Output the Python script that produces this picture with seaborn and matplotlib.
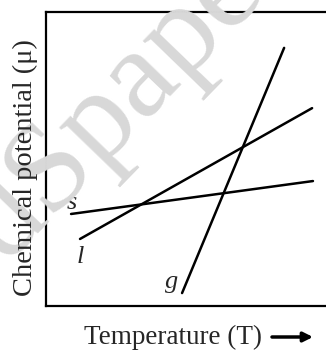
import pandas as pd
import matplotlib.pyplot as plt
import seaborn as sns

# two end points per phase line (T, mu), in arbitrary units
phases = ['s', 's', 'l', 'l', 'g', 'g']
temperature = [0.88, 9.27, 1.19, 9.24, 4.73, 8.27]
potential = [3.13, 4.25, 2.28, 6.73, 0.44, 8.78]

# phase labels placed at the lower-left end of each line
label_names = ['s', 'l', 'g']
label_T = [0.91, 1.19, 4.38]
label_mu = [3.50, 1.67, 0.82]

W, H = 326, 351

sns.set_style('white')
plt.rcParams['font.family'] = ['Liberation Serif', 'DejaVu Serif']

df = pd.DataFrame({'phase': phases, 'T': temperature, 'mu': potential})

fig = plt.figure(figsize=(W / 100, H / 100), dpi=100)

# faint watermark behind the chart
fig.text(136 / W, 1 - 128 / H, 'dSpape', rotation=46, fontsize=92,
         color='#d8d8d8', ha='center', va='baseline', rotation_mode='anchor',
         zorder=0)

ax = fig.add_axes([45.7 / W, 1 - 306 / H, (334 - 45.7) / W, (306 - 12) / H])
ax.patch.set_alpha(0)

sns.lineplot(data=df, x='T', y='mu', hue='phase', units='phase', estimator=None,
             palette={'s': 'black', 'l': 'black', 'g': 'black'},
             legend=False, lw=1.8, ax=ax)

for name, t, m in zip(label_names, label_T, label_mu):
    ax.text(t, m, name, fontsize=19, style='italic', ha='center', va='center')

ax.set_xlim(0, 10)
ax.set_ylim(0, 10)
ax.set_xticks([])
ax.set_yticks([])
ax.set_xlabel('')
ax.set_ylabel('')
for sp in ax.spines.values():
    sp.set_color('black')
    sp.set_linewidth(1.6)

fig.text(25 / W, 1 - 168 / H, 'Chemical potential (\u03bc)', rotation=90,
         fontsize=20.5, ha='center', va='center')
fig.text(172.5 / W, 1 - 337 / H, 'Temperature (T)', fontsize=19.5,
         ha='center', va='center')
ax.annotate('', xy=(313 / W, 1 - 337 / H), xytext=(272 / W, 1 - 337 / H),
            xycoords='figure fraction', textcoords='figure fraction',
            arrowprops=dict(arrowstyle='-|>', lw=2.5, color='black',
                            mutation_scale=14, shrinkA=0, shrinkB=0))

fig.savefig('out.png', dpi=100)
